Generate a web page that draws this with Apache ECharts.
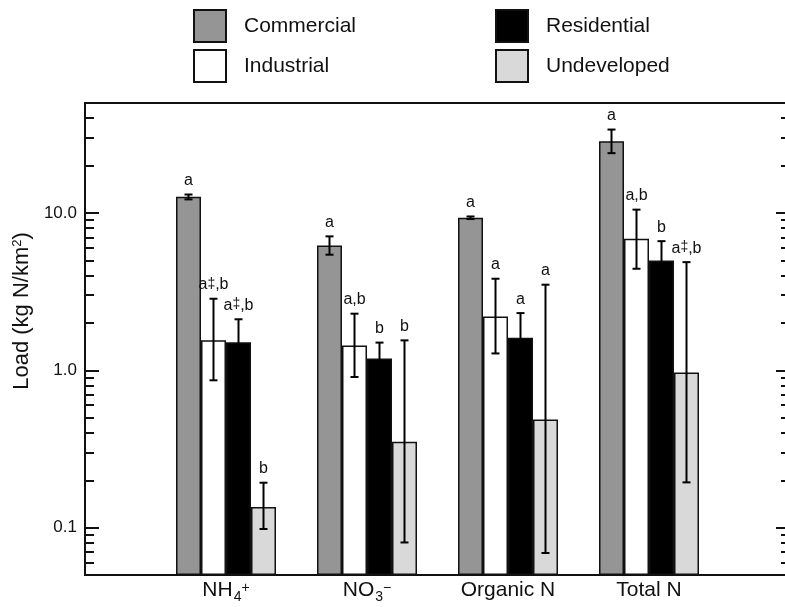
<!DOCTYPE html>
<html>
<head>
<meta charset="utf-8">
<script src="https://cdn.jsdelivr.net/npm/echarts@6/dist/echarts.min.js"></script>
<style>
  html, body { margin: 0; padding: 0; background: #ffffff; }
  #chart { width: 785px; height: 607px; }
</style>
</head>
<body>
<div id="chart"></div>
<script>
// Nitrogen loads by land use (kg N/km²), with error-bar limits and significance letters
const categories = ['', 'NH4', 'NO3', 'Organic N', 'Total N', ''];
const landUses = ['Commercial', 'Industrial', 'Residential', 'Undeveloped'];

const commercial     = [12.7, 6.22, 9.32, 28.6];
const commercialLow  = [12.2, 5.43, 9.15, 24.0];
const commercialHigh = [13.1, 7.10, 9.50, 33.9];

const industrial     = [1.55, 1.44, 2.20, 6.86];
const industrialLow  = [0.864, 0.907, 1.28, 4.42];
const industrialHigh = [2.85, 2.29, 3.82, 10.5];

const residential     = [1.51, 1.19, 1.61, 4.99];
const residentialLow  = [1.08, 0.94, 1.12, 3.76];
const residentialHigh = [2.11, 1.50, 2.31, 6.62];

const undeveloped     = [0.1355, 0.351, 0.486, 0.967];
const undevelopedLow  = [0.098, 0.0805, 0.069, 0.194];
const undevelopedHigh = [0.193, 1.55, 3.50, 4.87];

const commercialLetters  = ['a', 'a', 'a', 'a'];
const industrialLetters  = ['a{d|‡},b', 'a,b', 'a', 'a,b'];
const residentialLetters = ['a{d|‡},b', 'b', 'a', 'b'];
const undevelopedLetters = ['b', 'b', 'a', 'a{d|‡},b'];

const majorTicks = [0.1, 1, 10];
const minorTicks = [0.06, 0.07, 0.08, 0.09, 0.2, 0.3, 0.4, 0.5, 0.6, 0.7, 0.8, 0.9,
                    2, 3, 4, 5, 6, 7, 8, 9, 20, 30, 40];

const FONT = 'Liberation Sans, Arial, Helvetica, sans-serif';
const INK = '#111111';
const BAR_W = 25;
const fills = ['#959595', '#ffffff', '#000000', '#d9d9d9'];

const values = [commercial, industrial, residential, undeveloped];
const lows = [commercialLow, industrialLow, residentialLow, undevelopedLow];
const highs = [commercialHigh, industrialHigh, residentialHigh, undevelopedHigh];
const letters = [commercialLetters, industrialLetters, residentialLetters, undevelopedLetters];

// pad each series so values sit on the four inner category slots
function padded(arr) { return ['-'].concat(arr, ['-']); }

const barSeries = landUses.map((name, k) => ({
  name: name,
  type: 'bar',
  yAxisIndex: 0,
  barWidth: BAR_W,
  barGap: '0%',
  data: padded(values[k]),
  itemStyle: { color: fills[k], borderColor: INK, borderWidth: 1.5 },
  emphasis: { disabled: true },
  z: 2
}));

const errorSeries = landUses.map((name, k) => ({
  name: name + ' error',
  type: 'custom',
  yAxisIndex: 0,
  z: 5,
  silent: true,
  encode: { x: 0, y: [1, 2] },
  data: values[k].map((v, i) => [i + 1, lows[k][i], highs[k][i]]),
  renderItem: function (params, api) {
    const idx = api.value(0);
    const lo = api.coord([idx, api.value(1)]);
    const hi = api.coord([idx, api.value(2)]);
    const cx = lo[0] + (k - 1.5) * BAR_W;
    const cap = 4;
    const ls = { stroke: '#000000', lineWidth: 2 };
    return {
      type: 'group',
      children: [
        { type: 'line', shape: { x1: cx, y1: hi[1], x2: cx, y2: lo[1] }, style: ls },
        { type: 'line', shape: { x1: cx - cap, y1: hi[1], x2: cx + cap, y2: hi[1] }, style: ls },
        { type: 'line', shape: { x1: cx - cap, y1: lo[1], x2: cx + cap, y2: lo[1] }, style: ls },
        {
          type: 'text', x: cx, y: hi[1] - 6,
          style: {
            text: letters[k][params.dataIndex],
            fontSize: 16, fontFamily: FONT, fill: INK,
            align: 'center', verticalAlign: 'bottom',
            rich: { d: { fontSize: 14, fontFamily: FONT, fill: INK, lineHeight: 12, verticalAlign: 'top' } }
          }
        }
      ]
    };
  }
}));

const xLabelText = {
  'NH4': '{m|NH}{sub|4}{sup|+}',
  'NO3': '{m|NO}{sub|3}{sup|\u2212}',
  'Organic N': '{m|Organic N}',
  'Total N': '{m|Total N}'
};

function logAxis(position, tickLen, ticks, withLine, withLabels) {
  return {
    type: 'log', logBase: 10, min: 0.05, max: 50, startValue: 0.05,
    position: position,
    axisLine: { show: withLine, lineStyle: { color: INK, width: 2 } },
    axisTick: { show: true, inside: true, length: tickLen, customValues: ticks,
                lineStyle: { color: INK, width: 2 } },
    axisLabel: withLabels ? {
      show: true, customValues: ticks, margin: 8,
      fontSize: 17, fontFamily: FONT, color: INK,
      formatter: v => Number(v).toFixed(1)
    } : { show: false },
    splitLine: { show: false },
    minorTick: { show: false }
  };
}

const legendCommon = {
  orient: 'vertical', top: 9, padding: 0, itemWidth: 32, itemHeight: 32, itemGap: 6,
  icon: 'rect', selectedMode: false,
  itemStyle: { borderColor: INK, borderWidth: 2 },
  textStyle: { fontSize: 21, fontFamily: FONT, color: INK, padding: [0, 0, 0, 13] }
};

const option = {
  animation: false,
  backgroundColor: '#ffffff',
  grid: { left: 85, top: 103, width: 705, bottom: 32, show: true,
          outerBoundsMode: 'none', containLabel: false,
          borderColor: INK, borderWidth: 2, backgroundColor: 'transparent' },
  legend: [
    Object.assign({ left: 193, data: ['Commercial', 'Industrial'] }, legendCommon),
    Object.assign({ left: 495, data: ['Residential', 'Undeveloped'] }, legendCommon)
  ],
  xAxis: {
    type: 'category', data: categories, boundaryGap: false,
    axisLine: { show: true, lineStyle: { color: INK, width: 2 } },
    axisTick: { show: false },
    splitLine: { show: false },
    axisLabel: {
      interval: 0, margin: 5, color: INK,
      formatter: v => xLabelText[v] || '',
      rich: {
        m: { fontSize: 21, fontFamily: FONT, color: INK, lineHeight: 24, verticalAlign: 'top' },
        sub: { fontSize: 14, fontFamily: FONT, color: INK, lineHeight: 14, verticalAlign: 'bottom', padding: [19, 0, 0, 1] },
        sup: { fontSize: 14, fontFamily: FONT, color: INK, lineHeight: 14, verticalAlign: 'top', padding: [1, 0, 0, 0] }
      }
    }
  },
  yAxis: [
    logAxis('left', 14, majorTicks, true, true),
    logAxis('left', 9, minorTicks, false, false),
    logAxis('right', 14, majorTicks, true, false),
    logAxis('right', 9, minorTicks, false, false)
  ],
  graphic: [{
    type: 'text', x: 22, y: 311, rotation: Math.PI / 2,
    style: {
      text: 'Load (kg N/km{s|2})',
      fontSize: 22, fontFamily: FONT, fill: INK,
      align: 'center', verticalAlign: 'middle',
      rich: { s: { fontSize: 13, fontFamily: FONT, fill: INK, lineHeight: 12, verticalAlign: 'top' } }
    }
  }],
  series: barSeries.concat(errorSeries)
};

const chart = echarts.init(document.getElementById('chart'), null, { renderer: 'canvas' });
chart.setOption(option);
</script>
</body>
</html>
